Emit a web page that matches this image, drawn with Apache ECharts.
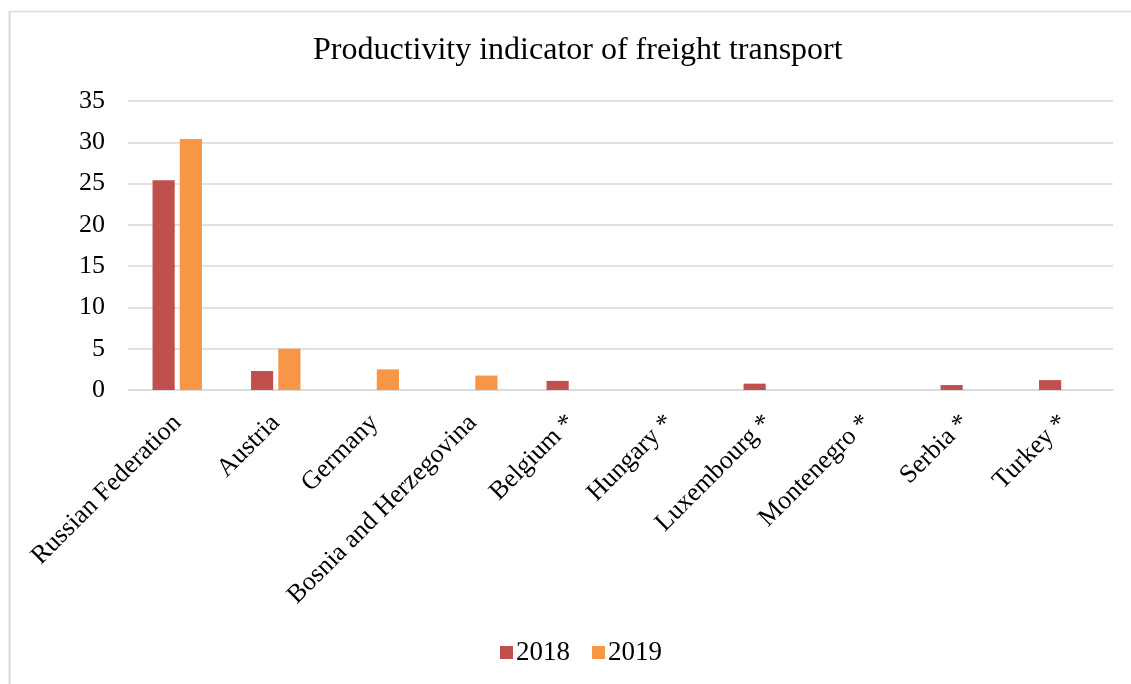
<!DOCTYPE html>
<html>
<head>
<meta charset="utf-8">
<script src="https://cdn.jsdelivr.net/npm/echarts@6/dist/echarts.min.js"></script>
<style>
  html, body { margin: 0; padding: 0; background: #ffffff; }
  #chart { width: 1131px; height: 684px; }
</style>
</head>
<body>
<div id="chart"></div>
<script>
// Countries and yearly values of the freight transport productivity indicator
const countries = [
  'Russian Federation', 'Austria', 'Germany', 'Bosnia and Herzegovina',
  'Belgium *', 'Hungary *', 'Luxembourg *', 'Montenegro *', 'Serbia *', 'Turkey *'
];
const values2018 = [25.4, 2.3, null, null, 1.1, null, 0.77, null, 0.6, 1.2];
const values2019 = [30.4, 5.0, 2.5, 1.75, null, null, null, null, null, null];
const seriesNames = ['2018', '2019'];
const yTicks = { min: 0, max: 35, step: 5 };

const serif = '"Liberation Serif", "DejaVu Serif", serif';
const chart = echarts.init(document.getElementById('chart'), null, { renderer: 'canvas' });

chart.setOption({
  backgroundColor: '#ffffff',
  animation: false,
  // chart-area frame (top and left edges fall inside the page)
  graphic: [
    {
      type: 'line',
      shape: { x1: 9, y1: 11.5, x2: 1131, y2: 11.5 },
      style: { stroke: '#d9d9d9', lineWidth: 1.5 },
      silent: true
    },
    {
      type: 'line',
      shape: { x1: 9.5, y1: 11, x2: 9.5, y2: 684 },
      style: { stroke: '#d9d9d9', lineWidth: 2 },
      silent: true
    }
  ],
  title: {
    text: 'Productivity indicator of freight transport',
    left: 313,
    top: 35,
    padding: 0,
    textStyle: { fontFamily: serif, fontSize: 32, fontWeight: 'normal', color: '#000000' }
  },
  legend: {
    data: seriesNames,
    bottom: 13,
    left: 495,
    itemWidth: 13,
    itemHeight: 13,
    itemGap: 22,
    icon: 'rect',
    textStyle: { fontFamily: serif, fontSize: 27, color: '#000000', padding: [0, 0, 0, -2] }
  },
  grid: { left: 128, right: 18, top: 101, bottom: 294 },
  xAxis: {
    type: 'category',
    data: countries,
    axisTick: { show: false },
    axisLine: { show: true, lineStyle: { color: '#d9d9d9', width: 1.5 } },
    axisLabel: {
      rotate: 45,
      interval: 0,
      margin: 29,
      fontFamily: serif,
      fontSize: 26,
      color: '#000000'
    }
  },
  yAxis: {
    type: 'value',
    min: yTicks.min,
    max: yTicks.max,
    interval: yTicks.step,
    axisLine: { show: false },
    axisTick: { show: false },
    splitLine: { lineStyle: { color: '#d9d9d9', width: 1.5 } },
    axisLabel: { fontFamily: serif, fontSize: 26, color: '#000000', margin: 23 }
  },
  series: [
    {
      name: seriesNames[0],
      type: 'bar',
      data: values2018,
      barWidth: '22.5%',
      barGap: '23%',
      itemStyle: { color: '#c0504d' }
    },
    {
      name: seriesNames[1],
      type: 'bar',
      data: values2019,
      barWidth: '22.5%',
      itemStyle: { color: '#f79646' }
    }
  ]
});
</script>
</body>
</html>
